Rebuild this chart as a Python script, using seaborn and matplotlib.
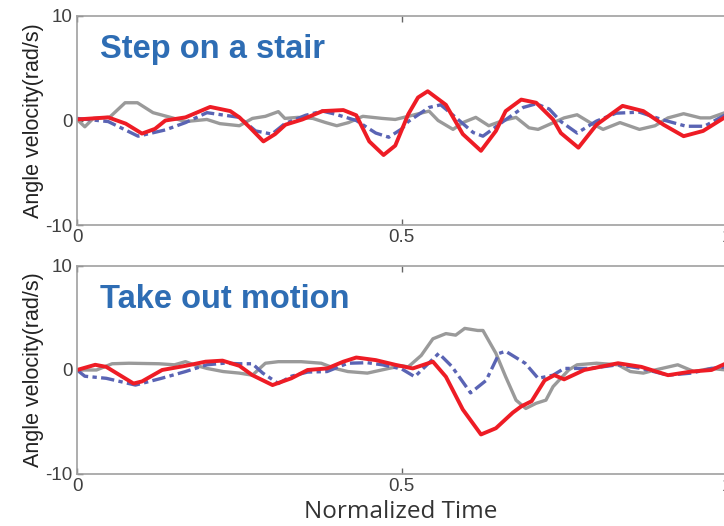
import seaborn as sns
import matplotlib.pyplot as plt
import pandas as pd
import numpy as np

# valores (tempo normalizado, velocidade angular em rad/s)
# painel 1: Step on a stair
t_stair_gray = [0, 0.012, 0.025, 0.05, 0.074, 0.093, 0.117, 0.144, 0.167, 0.2, 0.22, 0.25, 0.27, 0.29,
                0.31, 0.32, 0.34, 0.363, 0.383, 0.40, 0.418, 0.44, 0.47, 0.49, 0.51, 0.542, 0.556, 0.579,
                0.594, 0.614, 0.634, 0.656, 0.676, 0.696, 0.71, 0.73, 0.75, 0.77, 0.79, 0.81, 0.836, 0.866,
                0.89, 0.91, 0.934, 0.96, 0.975, 1.0]
v_stair_gray = [0.1, -0.6, 0.2, 0.3, 1.7, 1.7, 0.75, 0.3, -0.1, 0.1, -0.3, -0.5, 0.2, 0.4,
                0.85, 0.2, 0.3, 0.2, -0.2, -0.5, -0.2, 0.4, 0.2, 0.1, 0.4, 0.9, 0, -0.85,
                -0.2, 0.3, -0.5, 0, 0.3, -0.7, -0.85, -0.3, 0.25, 0.55, -0.2, -0.85, -0.2, -0.85,
                -0.5, 0.25, 0.65, 0.25, 0.25, 0.8]

t_stair_blue = [0, 0.048, 0.094, 0.136, 0.167, 0.2, 0.25, 0.275, 0.30, 0.32, 0.352, 0.378, 0.398, 0.43,
                0.46, 0.48, 0.50, 0.51, 0.542, 0.56, 0.583, 0.61, 0.625, 0.656, 0.687, 0.707, 0.727,
                0.745, 0.77, 0.80, 0.83, 0.866, 0.90, 0.938, 0.966, 1.0]
v_stair_blue = [0.2, -0.1, -1.5, -0.9, -0.2, 0.75, 0.3, -1.0, -1.3, -0.3, 0.5, 0.9, 0.6, 0,
                -1.2, -1.6, -0.8, -0.1, 1.25, 1.5, 0.3, -1.15, -1.5, -0.1, 1.25, 1.6, 1.1,
                -0.1, -1.2, -0.05, 0.7, 0.8, 0.1, -0.55, -0.55, 0.6]

t_stair_red = [0, 0.048, 0.075, 0.10, 0.12, 0.136, 0.167, 0.205, 0.236, 0.25, 0.265, 0.287, 0.305, 0.321,
               0.347, 0.378, 0.41, 0.43, 0.45, 0.472, 0.49, 0.51, 0.525, 0.54, 0.568, 0.594, 0.622,
               0.645, 0.66, 0.684, 0.707, 0.733, 0.745, 0.772, 0.80, 0.84, 0.872, 0.903, 0.934, 0.964, 1.0]
v_stair_red = [0.1, 0.3, -0.3, -1.25, -0.8, 0, 0.3, 1.3, 0.9, 0.3, -0.6, -2.0, -1.3, -0.4,
               0.1, 0.9, 1.0, 0.5, -2.0, -3.3, -2.4, 0.6, 2.2, 2.8, 1.5, -1.3, -2.9,
               -1.0, 0.9, 2.0, 1.7, 0.1, -1.2, -2.6, -0.4, 1.4, 0.9, -0.4, -1.5, -1.0, 0.4]

# painel 2: Take out motion
t_take_gray = [0, 0.03, 0.054, 0.08, 0.126, 0.15, 0.167, 0.18, 0.2, 0.225, 0.25, 0.27, 0.29, 0.31,
               0.345, 0.376, 0.397, 0.417, 0.447, 0.48, 0.50, 0.51, 0.53, 0.548, 0.568, 0.583, 0.597,
               0.617, 0.625, 0.645, 0.66, 0.676, 0.691, 0.707, 0.722, 0.733, 0.757, 0.77, 0.80, 0.833,
               0.852, 0.872, 0.89, 0.925, 0.95, 0.976, 1.0]
v_take_gray = [0, 0, 0.6, 0.65, 0.6, 0.5, 0.8, 0.5, 0.15, -0.15, -0.3, -0.5, 0.65, 0.8,
               0.8, 0.65, 0.15, -0.15, -0.3, 0.15, 0.4, 0.3, 1.4, 3.0, 3.5, 3.35, 4.0,
               3.8, 3.8, 1.6, -0.65, -2.9, -3.7, -3.2, -2.9, -1.6, 0.0, 0.5, 0.65, 0.5,
               -0.15, -0.3, 0, 0.5, -0.15, 0.15, 0]

t_take_blue = [0, 0.012, 0.045, 0.09, 0.13, 0.167, 0.2, 0.226, 0.25, 0.27, 0.286, 0.31, 0.33, 0.355,
               0.385, 0.417, 0.447, 0.47, 0.50, 0.52, 0.557, 0.577, 0.606, 0.63, 0.65, 0.66, 0.69,
               0.71, 0.733, 0.75, 0.79, 0.833, 0.869, 0.91, 0.946, 0.977, 1.0]
v_take_blue = [0, -0.6, -0.8, -1.45, -0.8, -0.15, 0.5, 0.65, 0.6, 0.6, -0.3, -1.3, -0.6, -0.2,
               -0.15, 0.65, 0.7, 0.5, 0.1, -0.65, 1.6, 0.35, -2.2, -1.0, 1.6, 1.8, 0.65,
               -0.8, -0.5, 0.15, 0.15, 0.5, 0.15, -0.5, -0.3, 0.15, 0.3]

t_take_red = [0, 0.028, 0.045, 0.087, 0.10, 0.131, 0.167, 0.198, 0.224, 0.25, 0.27, 0.301, 0.33, 0.355,
              0.385, 0.41, 0.43, 0.46, 0.49, 0.517, 0.548, 0.568, 0.594, 0.622, 0.645, 0.671, 0.684,
              0.70, 0.72, 0.735, 0.75, 0.781, 0.833, 0.869, 0.91, 0.946, 0.977, 1.0]
v_take_red = [0, 0.5, 0.3, -1.3, -1.1, 0, 0.4, 0.8, 0.9, 0.4, -0.5, -1.45, -0.8, 0,
              0.15, 0.8, 1.2, 0.95, 0.5, 0.15, 0.8, -0.65, -3.8, -6.2, -5.6, -4.1, -3.5,
              -3.0, -1.0, -0.5, -0.9, 0, 0.65, 0.3, -0.5, -0.15, 0, 0.65]

titulos = ['Step on a stair', 'Take out motion']
y_ticks = [-10, 0, 10]
x_ticks = [0, 0.5, 1]
x_tick_labels = ['0', '0.5', '1']

paineis = [
    (t_stair_gray, v_stair_gray, t_stair_blue, v_stair_blue, t_stair_red, v_stair_red),
    (t_take_gray, v_take_gray, t_take_blue, v_take_blue, t_take_red, v_take_red),
]

sns.set_style('ticks')
plt.rcParams['font.family'] = ['Liberation Sans', 'DejaVu Sans']
plt.rcParams['axes.unicode_minus'] = False

fig = plt.figure(figsize=(7.24, 5.26), dpi=100)
posicoes = [[0.1064, 0.5722, 0.897, 0.3974], [0.1064, 0.0989, 0.897, 0.3954]]

for pos, titulo, dados in zip(posicoes, titulos, paineis):
    ax = fig.add_axes(pos)
    tg, vg, tb, vb, tr, vr = dados
    sns.lineplot(x=tg, y=vg, ax=ax, color='#9a9a9a', linewidth=2.4)
    sns.lineplot(x=tb, y=vb, ax=ax, color='#5a64b4', linewidth=2.4,
                 linestyle=(0, (4, 1.3, 1.3, 1.3)))
    sns.lineplot(x=tr, y=vr, ax=ax, color='#ee1c25', linewidth=2.8)
    ax.set_xlim(0, 1)
    ax.set_ylim(-10, 10)
    ax.set_xticks(x_ticks)
    ax.set_xticklabels(x_tick_labels)
    ax.set_yticks(y_ticks)
    ax.tick_params(direction='in', length=4, width=1, colors='#666666',
                   labelsize=13.5, labelcolor='#404040', top=True, pad=3)
    for lado in ['left', 'bottom', 'top']:
        ax.spines[lado].set_color('#a0a0a0')
        ax.spines[lado].set_linewidth(1.2)
    ax.spines['right'].set_visible(False)
    ax.set_ylabel('Angle velocity(rad/s)', fontsize=15.5, color='#222222', labelpad=1)
    ax.text(0.035, 0.84, titulo, transform=ax.transAxes, fontsize=23.5, fontweight='bold',
            color='#2e6db4', va='center', ha='left')

fig.text(0.553, 0.027, 'Normalized Time', fontsize=17.5, color='#333333',
         ha='center', va='center', family=['Open Sans', 'DejaVu Sans'])

plt.savefig('out.png', dpi=100)
